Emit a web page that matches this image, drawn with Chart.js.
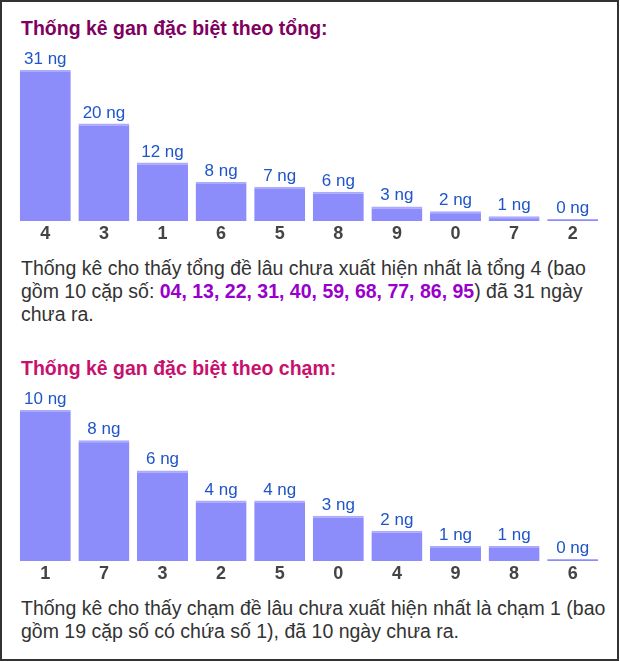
<!DOCTYPE html>
<html>
<head>
<meta charset="utf-8">
<script src="https://cdn.jsdelivr.net/npm/chart.js@4.4.0/dist/chart.umd.min.js"></script>
<style>
    html, body { margin: 0; padding: 0; background: #fff; }
    body { width: 620px; height: 662px; position: relative; overflow: hidden; font-family: "Liberation Sans", Arial, sans-serif; }
    .frame { position: absolute; left: 0; top: 0; width: 615px; height: 657px; border: 2px solid #333; }
    .title { position: absolute; left: 21px; margin: 0; font-size: 19.5px; line-height: 22px; font-weight: bold; white-space: nowrap; }
    .note { position: absolute; left: 21px; margin: 0; font-size: 19.5px; line-height: 23px; color: #333; white-space: nowrap; }
    .note b { color: #9900cc; }
    .chart-box { position: absolute; left: 0; width: 620px; height: 204px; }
</style>
</head>
<body>
<div class="frame"></div>

<h3 class="title" style="top:16.5px; color:#800060;">Thống kê gan đặc biệt theo tổng:</h3>
<div class="chart-box" style="top:44px;"><canvas id="tong-chart"></canvas></div>
<p class="note" style="top:257.4px;">Thống kê cho thấy tổng đề lâu chưa xuất hiện nhất là tổng 4 (bao<br>gồm 10 cặp số: <b>04, 13, 22, 31, 40, 59, 68, 77, 86, 95</b>) đã 31 ngày<br>chưa ra.</p>

<h3 class="title" style="top:357px; color:#c8106e;">Thống kê gan đặc biệt theo chạm:</h3>
<div class="chart-box" style="top:384px;"><canvas id="cham-chart"></canvas></div>
<p class="note" style="top:597px;">Thống kê cho thấy chạm đề lâu chưa xuất hiện nhất là chạm 1 (bao<br>gồm 19 cặp số có chứa số 1), đã 10 ngày chưa ra.</p>

<script>
// Gan theo tong
const tongLabels = ['4', '3', '1', '6', '5', '8', '9', '0', '7', '2'];
const tongValues = [31, 20, 12, 8, 7, 6, 3, 2, 1, 0];

// Gan theo cham
const chamLabels = ['1', '7', '3', '2', '5', '0', '4', '9', '8', '6'];
const chamValues = [10, 8, 6, 4, 4, 3, 2, 1, 1, 0];

const unitSuffix = ' ng';

// value labels above each bar
const barValueLabels = {
    id: 'barValueLabels',
    afterDatasetsDraw(chart) {
        const ctx = chart.ctx;
        const meta = chart.getDatasetMeta(0);
        const values = chart.data.datasets[0].data;
        ctx.save();
        ctx.font = '17px "Liberation Sans", Arial, sans-serif';
        ctx.fillStyle = '#1f55c9';
        ctx.textAlign = 'center';
        ctx.textBaseline = 'alphabetic';
        meta.data.forEach((bar, i) => {
            ctx.fillText(values[i] + unitSuffix, bar.x, bar.y - 6);
        });
        ctx.restore();
    }
};

function makeGanChart(id, labels, values) {
    const ctx = document.getElementById(id);
    return new Chart(ctx, {
        type: 'bar',
        data: {
            labels: labels,
            datasets: [{
                data: values,
                backgroundColor: '#8c8cfb',
                borderColor: '#aaaaff',
                borderWidth: { top: 2, left: 0, right: 0, bottom: 0 },
                borderSkipped: 'bottom',
                minBarLength: 2,
                categoryPercentage: 1,
                barPercentage: 0.87
            }]
        },
        options: {
            responsive: true,
            maintainAspectRatio: false,
            animation: false,
            layout: {
                padding: { top: 26, left: 16, right: 18, bottom: 0 }
            },
            plugins: {
                legend: { display: false },
                tooltip: { enabled: false }
            },
            scales: {
                x: {
                    grid: { display: false, drawTicks: false },
                    border: { display: false },
                    ticks: {
                        color: '#444',
                        padding: 2.7,
                        font: { family: '"Liberation Sans", Arial, sans-serif', size: 18, weight: 'bold' }
                    }
                },
                y: {
                    display: false,
                    min: 0,
                    max: Math.max(...values)
                }
            }
        },
        plugins: [barValueLabels]
    });
}

makeGanChart('tong-chart', tongLabels, tongValues);
makeGanChart('cham-chart', chamLabels, chamValues);
</script>
</body>
</html>
